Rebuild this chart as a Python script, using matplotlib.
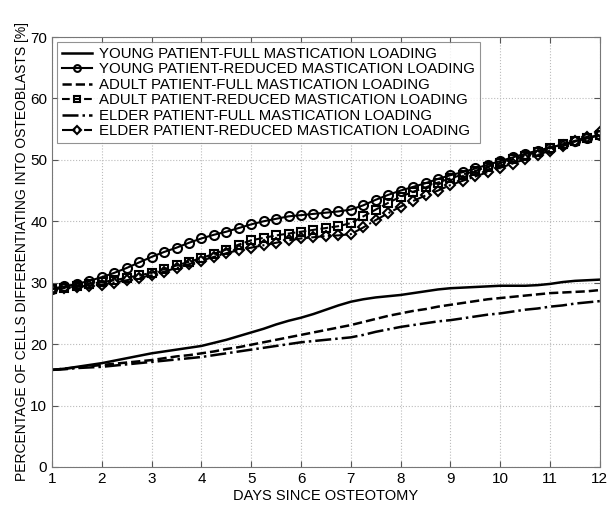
import matplotlib
matplotlib.use('Agg')
import matplotlib.pyplot as plt

plt.rcParams['font.family'] = ['Liberation Sans', 'DejaVu Sans']

# days since osteotomy (0.25 day steps)
days = [1 + 0.25 * i for i in range(45)]

young_full = [15.8, 16.0, 16.3, 16.6, 16.9, 17.3, 17.7, 18.1, 18.5, 18.8, 19.1, 19.4, 19.7, 20.2, 20.7,
              21.3, 21.9, 22.5, 23.2, 23.8, 24.3, 24.9, 25.6, 26.3, 26.9, 27.3, 27.6, 27.8, 28.0, 28.3,
              28.6, 28.9, 29.1, 29.2, 29.3, 29.4, 29.5, 29.5, 29.5, 29.6, 29.8, 30.1, 30.3, 30.4, 30.5]
young_reduced = [29.0, 29.4, 29.8, 30.3, 30.9, 31.6, 32.4, 33.3, 34.2, 35.0, 35.7, 36.5, 37.2, 37.8, 38.3,
                 38.9, 39.5, 40.0, 40.4, 40.8, 41.0, 41.2, 41.4, 41.6, 41.9, 42.6, 43.5, 44.3, 45.0, 45.6,
                 46.2, 46.9, 47.5, 48.0, 48.6, 49.2, 49.8, 50.4, 51.0, 51.5, 52.0, 52.5, 53.0, 53.5, 54.0]
adult_full = [15.8, 16.0, 16.2, 16.4, 16.6, 16.8, 17.0, 17.2, 17.4, 17.7, 18.0, 18.2, 18.5, 18.8, 19.2,
              19.5, 19.9, 20.3, 20.7, 21.1, 21.5, 21.9, 22.3, 22.7, 23.1, 23.6, 24.1, 24.6, 25.0, 25.4,
              25.7, 26.1, 26.4, 26.7, 27.0, 27.3, 27.5, 27.7, 27.9, 28.1, 28.3, 28.4, 28.5, 28.6, 28.8]
adult_reduced = [29.0, 29.2, 29.5, 29.8, 30.1, 30.4, 30.8, 31.2, 31.6, 32.2, 32.8, 33.4, 34.0, 34.7, 35.4,
                 36.2, 36.9, 37.3, 37.7, 38.0, 38.3, 38.6, 38.9, 39.2, 39.7, 40.8, 41.9, 43.0, 44.0, 44.8,
                 45.5, 46.3, 47.0, 47.6, 48.2, 48.9, 49.5, 50.1, 50.7, 51.3, 51.9, 52.5, 53.1, 53.6, 54.1]
elder_full = [15.8, 15.9, 16.1, 16.2, 16.3, 16.5, 16.7, 16.9, 17.1, 17.3, 17.5, 17.7, 17.9, 18.2, 18.5,
              18.8, 19.1, 19.4, 19.7, 20.0, 20.3, 20.5, 20.7, 20.9, 21.1, 21.5, 22.0, 22.4, 22.8, 23.1,
              23.4, 23.7, 23.9, 24.2, 24.5, 24.8, 25.0, 25.3, 25.6, 25.8, 26.1, 26.3, 26.6, 26.8, 27.0]
elder_reduced = [29.0, 29.1, 29.3, 29.5, 29.7, 30.0, 30.4, 30.8, 31.2, 31.8, 32.4, 33.0, 33.6, 34.2, 34.8,
                 35.3, 35.7, 36.1, 36.5, 36.9, 37.2, 37.4, 37.6, 37.7, 37.9, 39.0, 40.2, 41.3, 42.4, 43.3,
                 44.2, 45.0, 45.9, 46.6, 47.3, 48.0, 48.7, 49.4, 50.1, 50.8, 51.5, 52.2, 53.0, 53.8, 54.5]

fig = plt.figure(figsize=(6.09, 5.07), dpi=100)
ax = fig.add_axes([0.0854, 0.079, 0.8996, 0.848])

k = 'black'
ax.plot(days, young_full, '-', color=k, lw=1.8, label='YOUNG PATIENT-FULL MASTICATION LOADING')
ax.plot(days, young_reduced, '-o', color=k, lw=1.5, ms=6.5, mfc='none', mew=1.5,
        label='YOUNG PATIENT-REDUCED MASTICATION LOADING')
ax.plot(days, adult_full, '--', color=k, lw=1.8, label='ADULT PATIENT-FULL MASTICATION LOADING')
ax.plot(days, adult_reduced, '--s', color=k, lw=1.5, ms=6, mfc='none', mew=1.5,
        label='ADULT PATIENT-REDUCED MASTICATION LOADING')
ax.plot(days, elder_full, '-.', color=k, lw=1.8, label='ELDER PATIENT-FULL MASTICATION LOADING')
ax.plot(days, elder_reduced, '-.D', color=k, lw=1.5, ms=5.5, mfc='none', mew=1.5,
        label='ELDER PATIENT-REDUCED MASTICATION LOADING')

ax.set_xlim(1, 12)
ax.set_ylim(0, 70)
ax.set_xticks(range(1, 13))
ax.set_yticks(range(0, 71, 10))
ax.grid(True, linestyle=':', color='#bbbbbb', lw=0.8)
ax.tick_params(direction='in', top=True, right=True, labelsize=11, length=4, color='#555555')
for s in ax.spines.values():
    s.set_color('#777777')

ax.set_xlabel('DAYS SINCE OSTEOTOMY', fontsize=10.5, labelpad=2)
ax.set_ylabel('PERCENTAGE OF CELLS DIFFERENTIATING INTO OSTEOBLASTS [%]', fontsize=10, labelpad=1)

leg = ax.legend(loc='upper left', fontsize=10.8, frameon=True, fancybox=False, edgecolor='#777777',
                handlelength=2.0, handletextpad=0.5, borderpad=0.3, labelspacing=0.1,
                borderaxespad=0.35, markerscale=0.75)
leg.get_frame().set_linewidth(0.8)

fig.savefig('out.png', dpi=100)
